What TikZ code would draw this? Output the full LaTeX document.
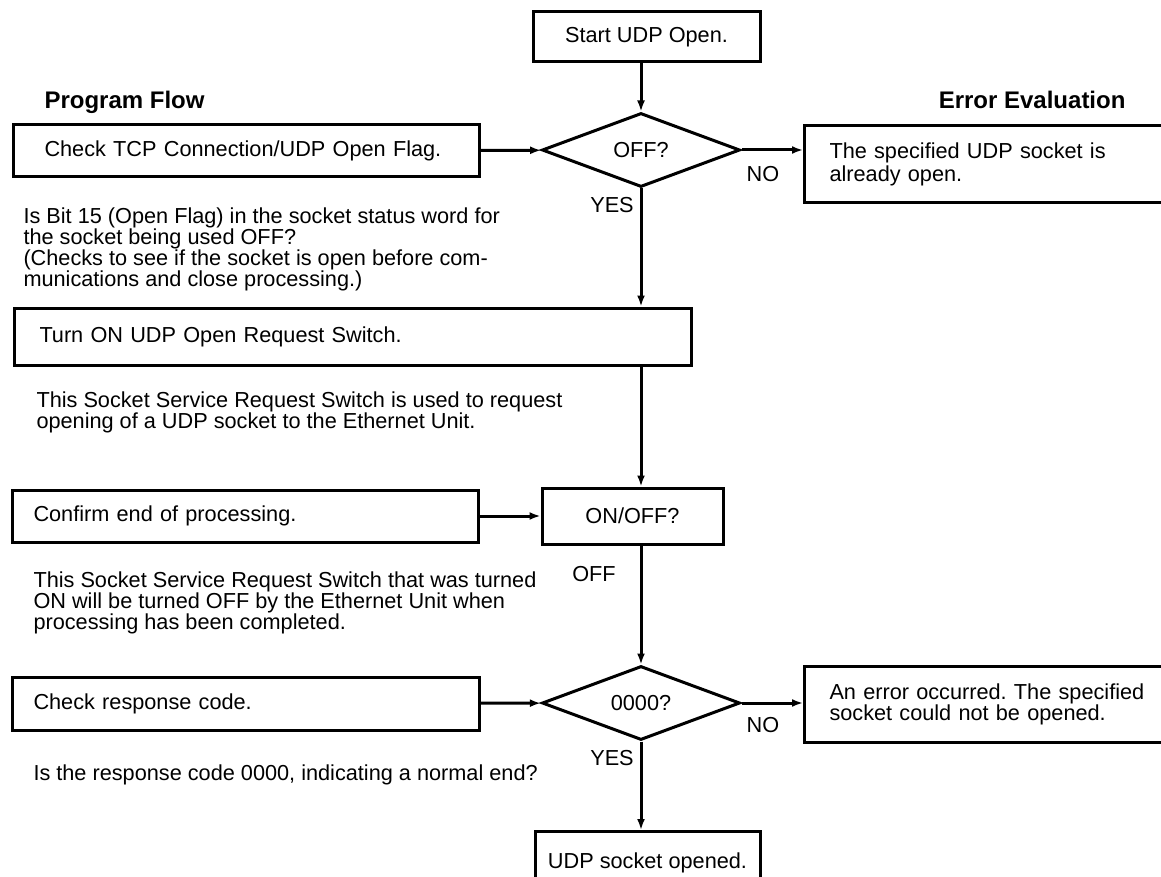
\documentclass[tikz,border=0pt]{standalone}
\usepackage{fontspec}
\setmainfont{Liberation Sans}
\usetikzlibrary{arrows.meta,shapes.geometric}

\newcommand{\bodyfont}{\fontsize{21.7}{18.5}\selectfont}
\newcommand{\wideline}{\fontsize{21.7}{23}\selectfont}
\newcommand{\headfont}{\fontsize{24}{26}\selectfont\bfseries}
\frenchspacing

\begin{document}
\begin{tikzpicture}[x=1pt,y=-1pt,>={Latex[length=11pt,width=8pt]},line width=3pt]
  \tikzstyle{flow}=[draw,anchor=west,align=left,inner xsep=21pt,minimum height=53pt,font=\bodyfont]
  \tikzstyle{test}=[draw,diamond,aspect=2.68,minimum width=198pt,minimum height=74pt,inner sep=0pt,font=\bodyfont]
  \tikzstyle{term}=[draw,minimum width=227pt,minimum height=50pt,font=\bodyfont]
  \tikzstyle{errbox}=[draw,anchor=north west,align=left,inner xsep=25pt,text width=340pt,minimum height=77pt,font=\bodyfont]
  \tikzstyle{note}=[anchor=north west,align=left,inner sep=0pt,font=\bodyfont]
  \tikzstyle{answer}=[inner sep=0pt,font=\bodyfont]
  \tikzstyle{head}=[inner sep=0pt,font=\headfont]
  \useasboundingbox (0,0) rectangle (1161,877);
  \clip (0,0) rectangle (1161,877);

  % column headings
  \node[head,anchor=base west] (hflow) at (43,109) {Program Flow};
  \node[head,anchor=base east] (herr) at (1127,109) {Error Evaluation};

  % main column
  \node[term] (start) at (646.5,37) {Start UDP Open.};
  \node[test] (offq) at (641,150) {OFF?};
  \node[draw,minimum width=181pt,minimum height=56pt,font=\bodyfont] (onoff) at (632.5,516) {ON/OFF?};
  \node[test] (zeroq) at (641,703) {0000?};
  \node[term,anchor=north,minimum width=225pt,minimum height=62pt] (done) at (647.5,830) {UDP socket opened.};

  % program flow steps
  \node[flow,inner xsep=31pt,text width=404pt,minimum height=52pt] (chk) at (12,151) {Check TCP Connection/UDP Open Flag.};
  \node[flow,inner xsep=25pt,text width=627pt,minimum height=57pt] (turn) at (13,336.5) {Turn ON UDP Open Request Switch.};
  \node[flow,text width=424pt,minimum height=52pt] (confirm) at (11,516) {Confirm end of processing.};
  \node[flow,text width=425pt] (resp) at (11,703.5) {Check response code.};

  % notes
  \node[note] (nchk) at (22,206) {Is Bit 15 (Open Flag) in the socket status word for\\the socket being used OFF?\\(Checks to see if the socket is open before com-\\munications and close processing.)};
  \node[note] (nturn) at (35,390) {This Socket Service Request Switch is used to request\\opening of a UDP socket to the Ethernet Unit.};
  \node[note] (nconfirm) at (32,570) {This Socket Service Request Switch that was turned\\ON will be turned OFF by the Ethernet Unit when\\processing has been completed.};
  \node[note] (nresp) at (32,763) {Is the response code 0000, indicating a normal end?};

  % error evaluation
  \node[errbox,font=\wideline] (used) at (803,124) {The specified UDP socket is\\already open.};
  \node[errbox,minimum height=76pt] (fail) at (803,665) {An error occurred. The specified\\socket could not be opened.};

  % branch labels
  \node[answer] (no1) at (763,174) {NO};
  \node[answer] (yes1) at (612,205) {YES};
  \node[answer] (off) at (594,574) {OFF};
  \node[answer] (no2) at (763,725) {NO};
  \node[answer] (yes2) at (612,758) {YES};

  % connectors
  \draw[->] (start.south -| offq) -- (offq.north);
  \draw[->] (chk) -- (offq);
  \draw[->] (offq.east) -- (offq.east -| used.west);
  \draw[->] (offq.south) -- (turn.north -| offq);
  \draw[->] (turn.south -| offq) -- (onoff.north -| offq);
  \draw[->] (confirm) -- (onoff);
  \draw[->] (onoff.south -| offq) -- (zeroq.north);
  \draw[->] (resp) -- (zeroq);
  \draw[->] (zeroq.east) -- (zeroq.east -| fail.west);
  \draw[->] (zeroq.south) -- (done.north -| zeroq);
\end{tikzpicture}
\end{document}
